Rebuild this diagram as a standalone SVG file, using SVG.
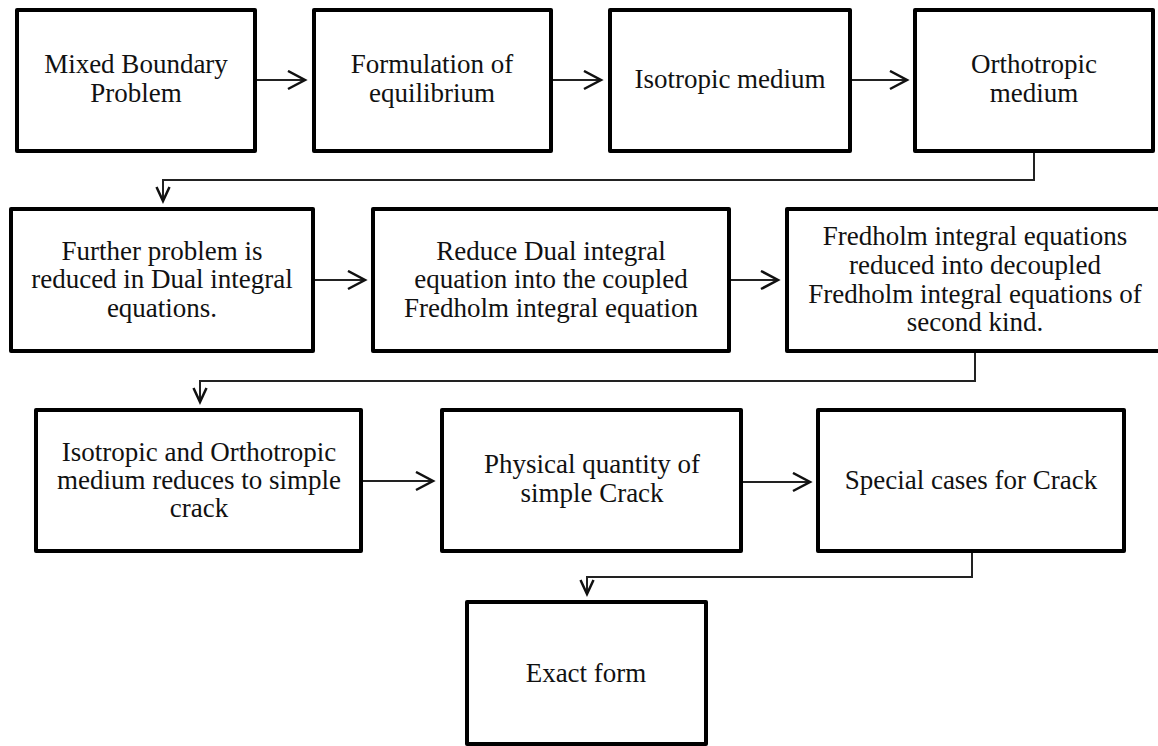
<svg xmlns="http://www.w3.org/2000/svg" width="1158" height="746" viewBox="0 0 1158 746">
<style>
.box{fill:#fff;stroke:#000;stroke-width:4;stroke-linejoin:round}
.t{font-family:"Liberation Serif","Times New Roman",serif;font-size:27px;fill:#111;text-anchor:middle}
.c{fill:none;stroke:#222;stroke-width:2}
</style>
<defs>
<marker id="ah" markerUnits="userSpaceOnUse" markerWidth="22" markerHeight="24" refX="18" refY="10" orient="auto" viewBox="0 0 22 24">
<path d="M1,1 L18,10 L1,19" fill="none" stroke="#111" stroke-width="2.5"/>
</marker>
<marker id="ad" markerUnits="userSpaceOnUse" markerWidth="20" markerHeight="18" refX="15" refY="7.5" orient="auto" viewBox="0 0 20 18">
<path d="M1,1 L15,7.5 L1,14" fill="none" stroke="#111" stroke-width="2.5"/>
</marker>
</defs>
<rect width="1158" height="746" fill="#fff"/>
<g id="connectors">
<line class="c" x1="257" y1="80" x2="305" y2="80" marker-end="url(#ah)"/>
<line class="c" x1="553" y1="80" x2="601" y2="80" marker-end="url(#ah)"/>
<line class="c" x1="852" y1="80" x2="907" y2="80" marker-end="url(#ah)"/>
<polyline class="c" points="1034,153 1034,180 163,180 163,201" marker-end="url(#ad)"/>
<line class="c" x1="315" y1="280" x2="365" y2="280" marker-end="url(#ah)"/>
<line class="c" x1="731" y1="280" x2="778" y2="280" marker-end="url(#ah)"/>
<polyline class="c" points="975,353 975,381 200,381 200,402" marker-end="url(#ad)"/>
<line class="c" x1="363" y1="481" x2="433" y2="481" marker-end="url(#ah)"/>
<line class="c" x1="743" y1="482" x2="810" y2="482" marker-end="url(#ah)"/>
<polyline class="c" points="972,553 972,577 587,577 587,594" marker-end="url(#ad)"/>
</g>
<g id="n1"><rect class="box" x="17" y="10" width="238" height="141"/>
<text class="t" x="136" y="73">Mixed Boundary</text><text class="t" x="136" y="102">Problem</text></g>
<g id="n2"><rect class="box" x="314" y="10" width="237" height="141"/>
<text class="t" x="432" y="73">Formulation of</text><text class="t" x="432" y="102">equilibrium</text></g>
<g id="n3"><rect class="box" x="610" y="10" width="240" height="141"/>
<text class="t" x="730" y="88">Isotropic medium</text></g>
<g id="n4"><rect class="box" x="915" y="10" width="238" height="141"/>
<text class="t" x="1034" y="73">Orthotropic</text><text class="t" x="1034" y="102">medium</text></g>
<g id="n5"><rect class="box" x="11" y="209" width="302" height="142"/>
<text class="t" x="162" y="260">Further problem is</text><text class="t" x="162" y="288">reduced in Dual integral</text><text class="t" x="162" y="317">equations.</text></g>
<g id="n6"><rect class="box" x="373" y="209" width="356" height="142"/>
<text class="t" x="551" y="260">Reduce Dual integral</text><text class="t" x="551" y="288">equation into the coupled</text><text class="t" x="551" y="317">Fredholm integral equation</text></g>
<g id="n7"><rect class="box" x="787" y="209" width="380" height="142"/>
<text class="t" x="975" y="245">Fredholm integral equations</text><text class="t" x="975" y="274">reduced into decoupled</text><text class="t" x="975" y="303">Fredholm integral equations of</text><text class="t" x="975" y="331">second kind.</text></g>
<g id="n8"><rect class="box" x="36" y="410" width="325" height="141"/>
<text class="t" x="199" y="461">Isotropic and Orthotropic</text><text class="t" x="199" y="489">medium reduces to simple</text><text class="t" x="199" y="517">crack</text></g>
<g id="n9"><rect class="box" x="442" y="410" width="299" height="141"/>
<text class="t" x="592" y="473">Physical quantity of</text><text class="t" x="592" y="502">simple Crack</text></g>
<g id="n10"><rect class="box" x="818" y="410" width="306" height="141"/>
<text class="t" x="971" y="489">Special cases for Crack</text></g>
<g id="n11"><rect class="box" x="467" y="602" width="239" height="142"/>
<text class="t" x="586" y="682">Exact form</text></g>
</svg>
